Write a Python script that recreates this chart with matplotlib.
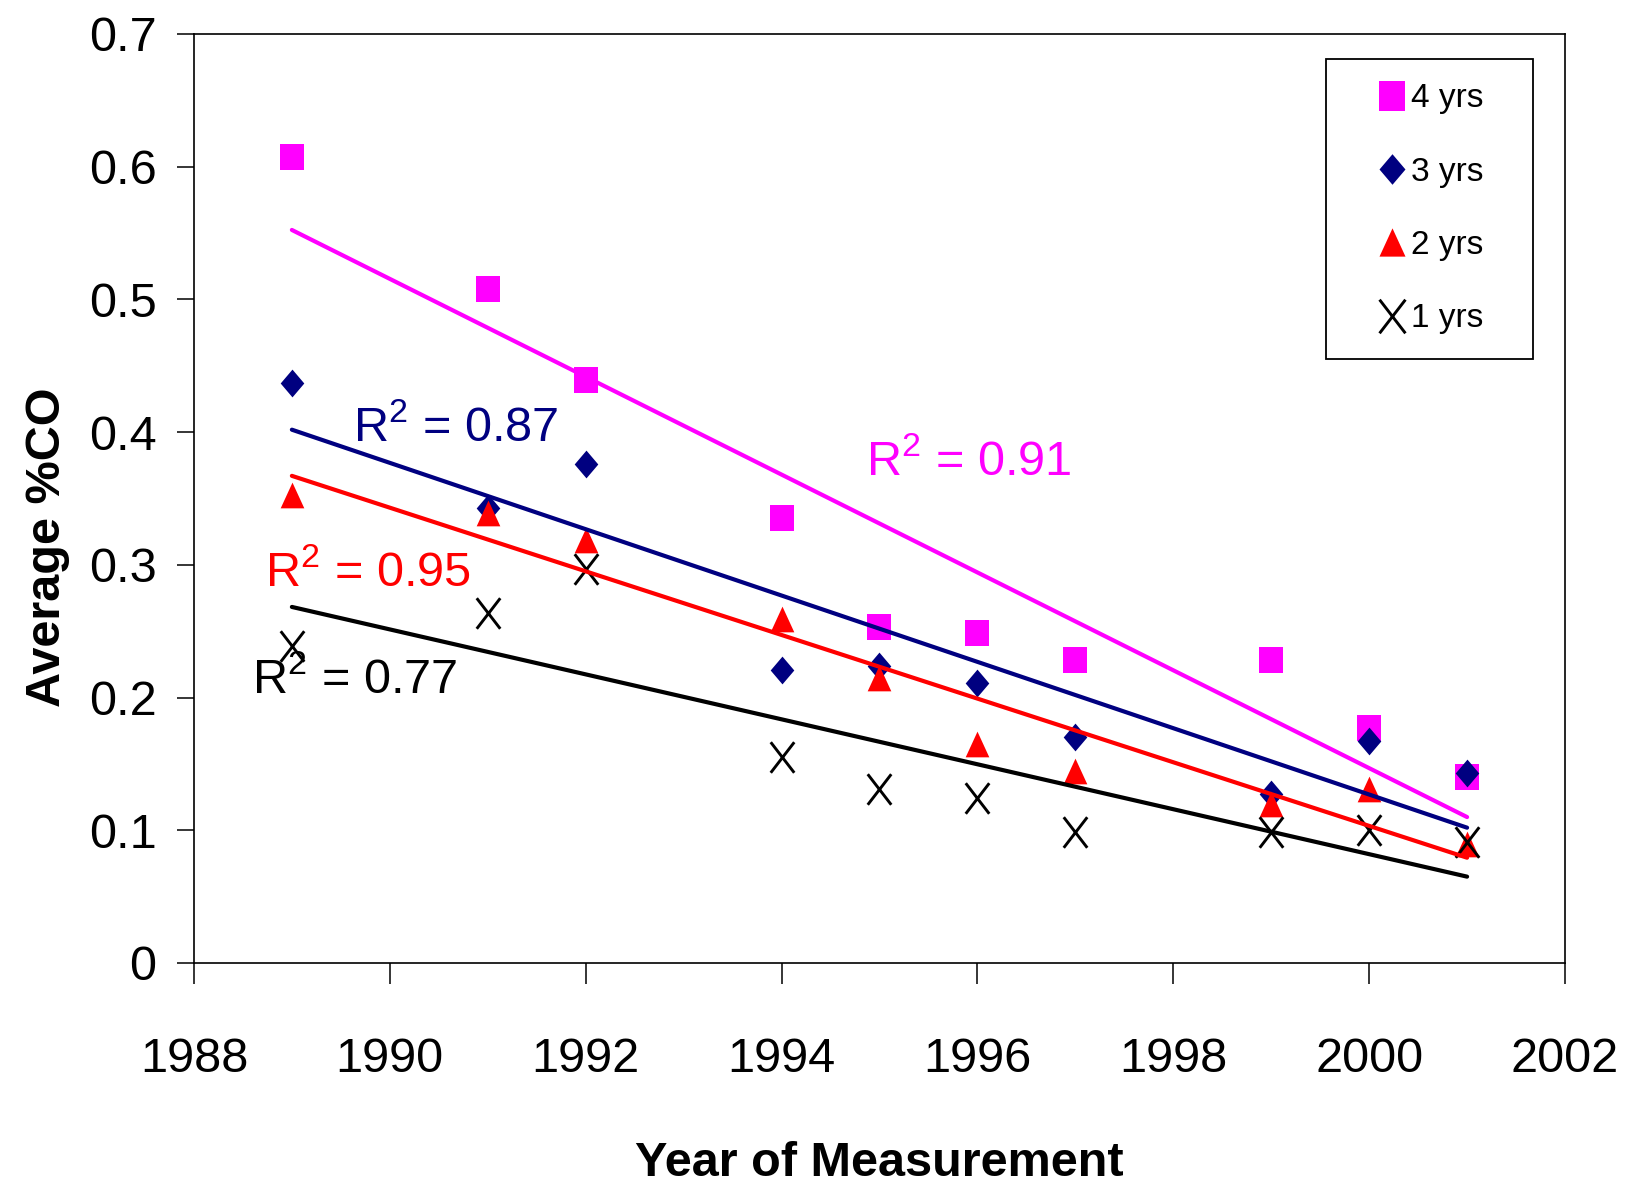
import numpy as np
import matplotlib
matplotlib.use("Agg")
import matplotlib.pyplot as plt
from matplotlib import font_manager as fm
from matplotlib.path import Path

names = {f.name for f in fm.fontManager.ttflist}
NARROW = 'Liberation Sans Narrow' in names
FONT = 'Liberation Sans Narrow' if NARROW else 'Liberation Sans'
plt.rcParams['font.family'] = [FONT, 'DejaVu Sans']
plt.rcParams['mathtext.fontset'] = 'custom'
plt.rcParams['mathtext.rm'] = FONT
plt.rcParams['mathtext.it'] = FONT
plt.rcParams['mathtext.default'] = 'regular'

BIG = 42 if NARROW else 35
LEGFS = 25 if NARROW else 24

# ---- data ----
years = [1989, 1991, 1992, 1994, 1995, 1996, 1997, 1999, 2000, 2001]
co_4yrs = [0.607, 0.508, 0.439, 0.335, 0.253, 0.249, 0.228, 0.228, 0.177, 0.140]
co_3yrs = [0.437, 0.343, 0.376, 0.221, 0.224, 0.211, 0.170, 0.127, 0.167, 0.143]
co_2yrs = [0.353, 0.339, 0.319, 0.259, 0.215, 0.165, 0.145, 0.120, 0.131, 0.090]
co_1yrs = [0.239, 0.264, 0.297, 0.155, 0.131, 0.124, 0.099, 0.099, 0.100, 0.091]
series_labels = ['4 yrs', '3 yrs', '2 yrs', '1 yrs']
r2_values = ['0.91', '0.87', '0.95', '0.77']
x_ticks = [1988, 1990, 1992, 1994, 1996, 1998, 2000, 2002]
y_ticks = [0, 0.1, 0.2, 0.3, 0.4, 0.5, 0.6, 0.7]

colors = ['#FF00FF', '#000080', '#FF0000', '#000000']

sq = [(-0.88, -1), (0.88, -1), (0.88, 1), (-0.88, 1), (-0.88, -1)]
dia = [(0, 1), (0.85, 0), (0, -1), (-0.85, 0), (0, 1)]
tri = [(0, 1), (0.92, -1), (-0.92, -1), (0, 1)]
xm = Path([(-0.77, -1), (0.77, 1), (-0.77, 1), (0.77, -1)],
          [Path.MOVETO, Path.LINETO, Path.MOVETO, Path.LINETO])

fig = plt.figure(figsize=(16.27, 11.88), dpi=100)
ax = fig.add_axes([0.1192, 0.1894, 0.8427, 0.782])

series = [co_4yrs, co_3yrs, co_2yrs, co_1yrs]
marker_specs = [
    dict(marker=sq, markersize=19, markeredgewidth=0),
    dict(marker=dia, markersize=20, markeredgewidth=0),
    dict(marker=tri, markersize=18.5, markeredgewidth=0),
    dict(marker=xm, markersize=22, markeredgewidth=2.1, markerfacecolor='none'),
]

for vals, lab, c, ms in zip(series, series_labels, colors, marker_specs):
    kw = dict(ms)
    if kw.get('markerfacecolor') != 'none':
        kw['markerfacecolor'] = c
    ax.plot(years, vals, linestyle='none', color=c, markeredgecolor=c,
            label=lab, zorder=3, **kw)

xs = np.array([min(years), max(years)], dtype=float)
for vals, c in zip(series, colors):
    k, b = np.polyfit(years, vals, 1)
    ax.plot(xs, k * xs + b, color=c, linewidth=3.0, zorder=4, solid_capstyle='round')

# R^2 annotations
r2_pos = [(1994.86, 0.3677), (1989.62, 0.393), (1988.725, 0.284), (1988.59, 0.2035)]
for (tx, ty), r2, c in zip(r2_pos, r2_values, colors):
    ax.text(tx, ty, r'R$^{2}$ = ' + r2, color=c, fontsize=BIG, ha='left',
            va='baseline', zorder=5)

ax.set_xlim(1988, 2002)
ax.set_ylim(0, 0.7)
ax.set_xticks(x_ticks)
ax.set_xticklabels([str(t) for t in x_ticks])
ax.set_yticks(y_ticks)
ax.set_yticklabels(['0' if t == 0 else f'{t:.1f}' for t in y_ticks])

for s in ax.spines.values():
    s.set_linewidth(1.2)
    s.set_color('black')

ax.tick_params(axis='y', direction='out', length=12, width=1.1, pad=15, labelsize=BIG)
ax.tick_params(axis='x', direction='out', length=15, width=1.1,
               pad=(29 if NARROW else 38), labelsize=BIG)

ax.set_ylabel('Average %CO', fontsize=BIG, fontweight='bold')
ax.yaxis.label.set_va('center')
ax.yaxis.set_label_coords(-0.107, 0.448)
ax.set_xlabel('Year of Measurement', fontsize=BIG, fontweight='bold')
ax.xaxis.label.set_va('center')
ax.xaxis.set_label_coords(0.5, -0.216)

leg = ax.legend(loc='upper left', bbox_to_anchor=(0.826, 0.650, 0.151, 0.323),
                mode='expand', borderaxespad=0, fontsize=LEGFS, frameon=True,
                fancybox=False, edgecolor='black', framealpha=1,
                borderpad=0.73, handlelength=2.5, handletextpad=-0.68,
                labelspacing=1.27, numpoints=1, markerscale=1.1)
leg.get_frame().set_linewidth(1.3)

fig.savefig('out.png', dpi=100)
